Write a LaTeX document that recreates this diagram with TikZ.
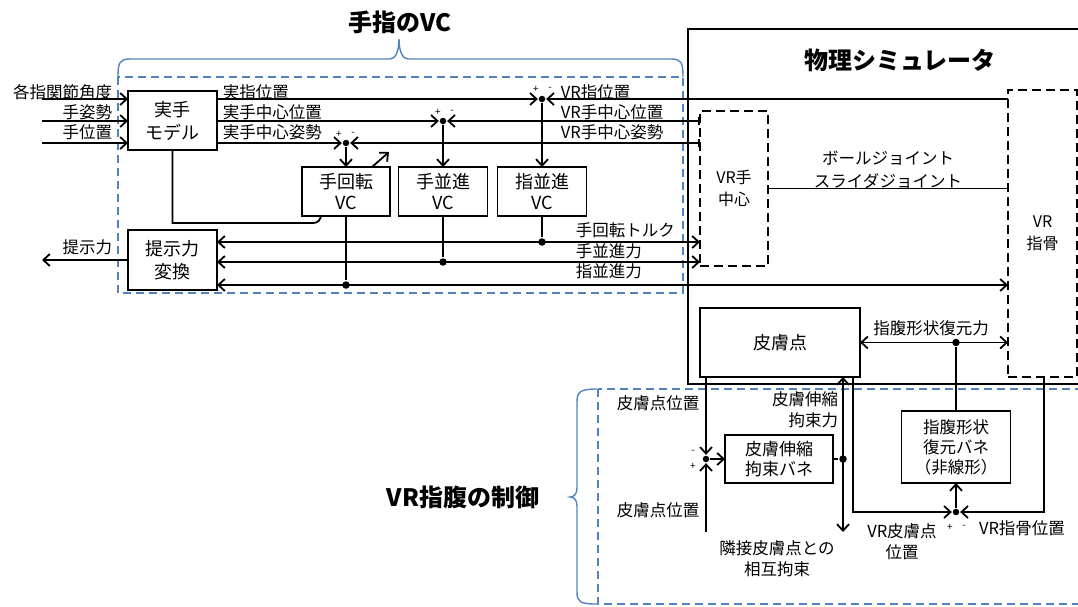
\documentclass[tikz,border=0pt]{standalone}
\usepackage{fontspec}
\setmainfont{Noto Sans CJK JP}
\usetikzlibrary{arrows.meta}
\definecolor{vcblue}{RGB}{84,130,192}
\begin{document}
\begin{tikzpicture}[x=1pt,y=-1pt,
  line width=1.8pt,
  >={Straight Barb[length=6.5pt,width=12pt]},
  sbox/.style={draw, rectangle, inner sep=0pt, outer sep=0pt, align=center, font=\fontsize{18}{23}\selectfont},
  dbox/.style={draw, dash pattern=on 9pt off 5pt, rectangle, inner sep=0pt, outer sep=0pt, align=center, font=\fontsize{16}{22}\selectfont},
  lbl/.style={inner sep=0pt, font=\fontsize{16.5}{21}\selectfont, align=center},
  pm/.style={inner sep=0pt, font=\fontsize{10}{10}\selectfont},
  jdot/.style={circle, fill, inner sep=0pt, minimum size=7.5pt},
  sdot/.style={circle, fill, inner sep=0pt, minimum size=6.5pt},
  ttl/.style={inner sep=0pt, font=\fontsize{24}{28}\selectfont\bfseries},
  bluedash/.style={draw=vcblue, line width=1.4pt, dash pattern=on 8pt off 5pt},
  bluebrace/.style={draw=vcblue, line width=1.4pt},
]
\clip (0,0) rectangle (1078,606);

% blue groups
\draw[bluedash] (118,77) rectangle (683,293);
\draw[bluedash] (598,389) rectangle (1100,604);
\draw[bluebrace] (118,77) .. controls (118,62) and (120,59) .. (130,59) -- (390,59)
  .. controls (396,59) and (399,50) .. (399,39)
  .. controls (399,50) and (402,59) .. (408,59) -- (671,59)
  .. controls (681,59) and (683,62) .. (683,77);
\draw[bluebrace] (597,389) .. controls (580,389) and (577,392) .. (577,402) -- (577,488)
  .. controls (577,494) and (574,497) .. (570,497)
  .. controls (574,497) and (577,500) .. (577,506) -- (577,592)
  .. controls (577,602) and (580,604) .. (597,604);

% titles
\node[ttl] (t1) at (400,22) {手指のVC};
\node[ttl] (t2) at (463,497) {VR指腹の制御};

% physics simulator
\node[draw, rectangle, inner sep=0pt, outer sep=0pt, minimum width=412pt, minimum height=355pt] (phys) at (894,206.5) {};
\node[ttl] (t3) at (900,60) {物理シミュレータ};

% boxes
\node[sbox, minimum width=89pt, minimum height=59pt] (model) at (172.5,120.5) {実手\\モデル};
\node[sbox, minimum width=89pt, minimum height=60pt] (conv) at (172.5,260) {提示力\\変換};
\node[sbox, minimum width=88pt, minimum height=49pt, font=\fontsize{18}{21}\selectfont] (vcrot) at (346,191.5) {手回転\\VC};
\node[sbox, minimum width=89pt, minimum height=49pt, font=\fontsize{18}{21}\selectfont] (vchand) at (443,191.5) {手並進\\VC};
\node[sbox, minimum width=89pt, minimum height=49pt, font=\fontsize{18}{21}\selectfont] (vcfing) at (542,191.5) {指並進\\VC};
\node[dbox, minimum width=68pt, minimum height=155pt] (vrhand) at (734,188.5) {VR手\\中心};
\node[dbox, minimum width=69pt, minimum height=287pt] (vrbone) at (1042.5,233.5) {VR\\指骨};
\node[sbox, minimum width=160pt, minimum height=69pt] (skin) at (780,342.5) {皮膚点};
\node[sbox, minimum width=108pt, minimum height=48pt, font=\fontsize{17}{20}\selectfont] (spring) at (779,459) {皮膚伸縮\\拘束バネ};
\node[sbox, minimum width=109pt, minimum height=72pt, font=\fontsize{16.5}{20}\selectfont] (shape) at (956,447) {指腹形状\\復元バネ\\（非線形）};

% summing points and junctions
\node[sdot] (s1) at (346,143) {};
\node[sdot] (s2) at (443,121) {};
\node[sdot] (s3) at (542,99) {};
\node[sdot] (s4) at (956,512) {};
\node[sdot] (s5) at (706,459) {};
\node[jdot] (d1) at (542,242) {};
\node[jdot] (d2) at (443,262) {};
\node[jdot] (d3) at (346,285) {};
\node[jdot] (d4) at (956,342.5) {};
\node[jdot] (d5) at (843,459) {};

\coordinate (in1) at (42,99);
\coordinate (in2) at (42,121);
\coordinate (in3) at (42,143);
\coordinate (out) at (42,260);
\coordinate (skinin) at (706,532);
\coordinate (adj) at (843,532);

% inputs
\draw[->] (in1) -- (in1 -| model.west);
\draw[->] (in2) -- (in2 -| model.west);
\draw[->] (in3) -- (in3 -| model.west);
\draw[->] (conv.west) -- (out);

% comparisons
\draw[->] (model.east |- s3) -- (s3);
\draw[->] (model.east |- s2) -- (s2);
\draw[->] (model.east |- s1) -- (s1);
\draw[->] (vrbone.west |- s3) -- (s3);
\draw[{Bar[width=8pt]}->] (vrhand.west |- s2) -- (s2);
\draw[{Bar[width=8pt]}->] (vrhand.west |- s1) -- (s1);
\draw[->] (s1) -- (vcrot.north);
\draw[->] (s2) -- (vchand.north);
\draw[->] (s3) -- (vcfing.north);
\draw[->] ([xshift=26pt]vcrot.north) -- ++(17,-15);
\draw (model.south) |- (313,223) .. controls (318,223) and (320,220) .. ([xshift=19pt]vcrot.south west);

% forces
\draw[<->] (conv.east |- d1) -- (vrhand.west |- d1);
\draw[<->] (conv.east |- d2) -- (vrhand.west |- d2);
\draw[<->] (conv.east |- d3) -- (vrbone.west |- d3);
\draw (vcfing.south) -- (d1);
\draw (vchand.south) -- (d2);
\draw (vcrot.south) -- (d3);

% joints
\draw (vrhand.east) -- (vrhand.east -| vrbone.west);

% skin part
\draw[<->] (skin.east) -- (skin.east -| vrbone.west);
\draw (d4) -- (shape.north);
\draw[->] (s4) -- (shape.south);
\draw[->] ([xshift=73pt]skin.south) |- (s4);
\draw[->] ([xshift=1.5pt]vrbone.south) |- (s4);
\draw[->] ([xshift=-74pt]skin.south) -- (s5);
\draw[->] (skinin) -- (s5);
\draw[->] (s5) -- (spring.west);
\draw (spring.east) -- (d5);
\draw[<->] (adj) -- (adj |- skin.south);

% labels
\node[lbl, anchor=east] (l1) at (113,92) {各指関節角度};
\node[lbl, anchor=east] (l2) at (113,112) {手姿勢};
\node[lbl, anchor=east] (l3) at (113,132) {手位置};
\node[lbl, anchor=east] (l4) at (113,247) {提示力};
\node[lbl, anchor=west] (l5) at (222,92) {実指位置};
\node[lbl, anchor=west] (l6) at (222,112) {実手中心位置};
\node[lbl, anchor=west] (l7) at (222,132) {実手中心姿勢};
\node[lbl, anchor=west] (l8) at (560,92) {VR指位置};
\node[lbl, anchor=west] (l9) at (560,112) {VR手中心位置};
\node[lbl, anchor=west] (l10) at (560,132) {VR手中心姿勢};
\node[lbl, anchor=west] (l11) at (575,230) {手回転トルク};
\node[lbl, anchor=west] (l12) at (575,251) {手並進力};
\node[lbl, anchor=west] (l13) at (575,271) {指並進力};
\node[lbl] (l14) at (888,158) {ボールジョイント};
\node[lbl] (l15) at (888,181) {スライダジョイント};
\node[lbl] (l16) at (931,328) {指腹形状復元力};
\node[lbl] (l17) at (658,403) {皮膚点位置};
\node[lbl] (l18) at (658,510) {皮膚点位置};
\node[lbl, anchor=east, align=right] (l19) at (839,410) {皮膚伸縮\\拘束力};
\node[lbl] (l20) at (777,559) {隣接皮膚点との\\相互拘束};
\node[lbl] (l21) at (902,542) {VR皮膚点\\位置};
\node[lbl] (l22) at (1022,528) {VR指骨位置};

% signs
\node[pm] (p1) at (339,134) {+};
\node[pm] (m1) at (353,134) {-};
\node[pm] (p2) at (438,112) {+};
\node[pm] (m2) at (452,112) {-};
\node[pm] (p3) at (536,89) {+};
\node[pm] (m3) at (550,89) {-};
\node[pm] (p4) at (950,527) {+};
\node[pm] (m4) at (964,527) {-};
\node[pm] (m5) at (693,452) {-};
\node[pm] (p5) at (693,466) {+};
\end{tikzpicture}
\end{document}
